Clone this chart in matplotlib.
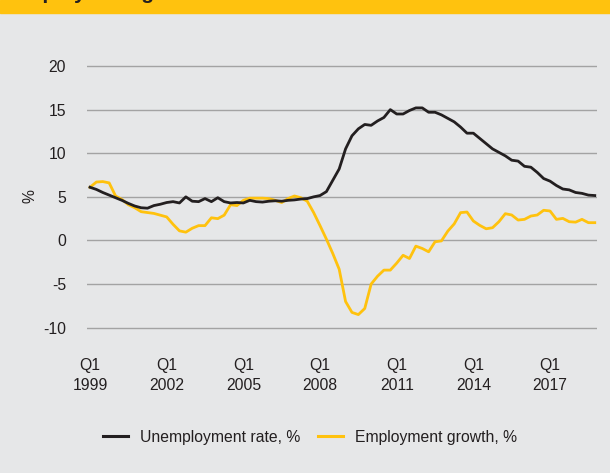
import numpy as np
import matplotlib.pyplot as plt
from matplotlib.patches import Rectangle
from matplotlib.lines import Line2D

plt.rcParams['font.family'] = ['Liberation Sans', 'DejaVu Sans']

# Quarterly series, Q1 1999 to Q4 2018
unemployment = [
    6.1, 5.85, 5.5, 5.2, 4.9, 4.6, 4.25, 3.95, 3.75, 3.7,
    4.0, 4.15, 4.35, 4.45, 4.3, 5.0, 4.5, 4.45, 4.8, 4.45,
    4.9, 4.45, 4.3, 4.35, 4.3, 4.6, 4.45, 4.4, 4.5, 4.55,
    4.5, 4.6, 4.65, 4.75, 4.8, 5.0, 5.15, 5.6, 6.9, 8.2,
    10.5, 12.0, 12.8, 13.3, 13.2, 13.7, 14.1, 15.0, 14.5, 14.5,
    14.9, 15.2, 15.2, 14.7, 14.7, 14.4, 14.0, 13.6, 13.0, 12.3,
    12.3, 11.7, 11.1, 10.5, 10.1, 9.7, 9.2, 9.1, 8.5, 8.4,
    7.8, 7.1, 6.8, 6.3, 5.9, 5.8, 5.5, 5.4, 5.2, 5.15,
]
employment_growth = [
    6.1, 6.7, 6.75, 6.6, 5.1, 4.7, 4.1, 3.75, 3.3, 3.2,
    3.1, 2.9, 2.7, 1.85, 1.1, 0.95, 1.4, 1.7, 1.7, 2.6,
    2.5, 2.9, 4.1, 4.0, 4.6, 4.85, 4.85, 4.85, 4.8, 4.6,
    4.35, 4.8, 5.1, 4.9, 4.5, 3.2, 1.7, 0.15, -1.5, -3.3,
    -7.0, -8.25, -8.5, -7.8, -5.0, -4.1, -3.4, -3.4, -2.6, -1.7,
    -2.07, -0.65, -0.92, -1.3, -0.15, -0.05, 1.07, 1.9, 3.19, 3.26,
    2.23, 1.73, 1.34, 1.46, 2.15, 3.07, 2.92, 2.34, 2.42, 2.8,
    2.92, 3.46, 3.38, 2.42, 2.53, 2.15, 2.1, 2.42, 2.04, 2.04,
]
tick_years = ["1999", "2002", "2005", "2008", "2011", "2014", "2017"]
y_ticks = [-10, -5, 0, 5, 10, 15, 20]

BG = "#e6e7e8"
YELLOW = "#ffc20e"
BLACK = "#231f20"
GRID = "#a3a3a3"
FS = 11.3

fig = plt.figure(figsize=(6.1, 4.73), dpi=100, facecolor=BG)

# yellow header strip with the heading running off the top edge
fig.patches.append(Rectangle((0, 1 - 13.5 / 473), 1, 13.5 / 473,
                             transform=fig.transFigure, color=YELLOW, zorder=0))
fig.text(10 / 610, 1 + 1.5 / 473, "Employment growth", fontsize=15,
         fontweight="bold", color=BLACK, va="baseline", ha="left")

# plot area spans y = -11..21 so the outer gridlines are not clipped
ax = fig.add_axes([87 / 610, 1 - 336.4 / 473, 510 / 610, (336.4 - 57.3) / 473])
ax.set_facecolor(BG)

x = np.arange(len(unemployment))
ax.plot(x, unemployment, color=BLACK, lw=2.0, zorder=3,
        label="Unemployment rate, %")
ax.plot(x, employment_growth, color=YELLOW, lw=2.0, zorder=2,
        label="Employment growth, %")

ax.set_xlim(-0.47, 79.35)
ax.set_ylim(-11, 21)
ax.set_yticks(y_ticks)
ax.set_yticklabels([str(v) for v in y_ticks])
ax.set_xticks(np.arange(0, 12 * len(tick_years), 12))
ax.set_xticklabels([f"Q1\n{y}" for y in tick_years], linespacing=1.4)

ax.grid(axis="y", color=GRID, lw=1.0)
ax.set_axisbelow(True)
for s in ax.spines.values():
    s.set_visible(False)
ax.tick_params(axis="both", length=0, labelsize=FS, colors=BLACK)
ax.tick_params(axis="y", pad=15)
ax.tick_params(axis="x", pad=15.5)

fig.text(30 / 610, 1 - 196 / 473, "%", rotation=90, fontsize=FS,
         color=BLACK, ha="center", va="center")

handles = [Line2D([], [], color=BLACK, lw=2.2),
           Line2D([], [], color=YELLOW, lw=2.2)]
fig.legend(handles, ["Unemployment rate, %", "Employment growth, %"],
           loc="center", bbox_to_anchor=(310 / 610, 1 - 437 / 473), ncol=2,
           frameon=False, fontsize=FS, handlelength=1.58,
           handletextpad=0.76, columnspacing=1.14, labelcolor=BLACK)

fig.savefig("out.png", dpi=100, facecolor=BG)
